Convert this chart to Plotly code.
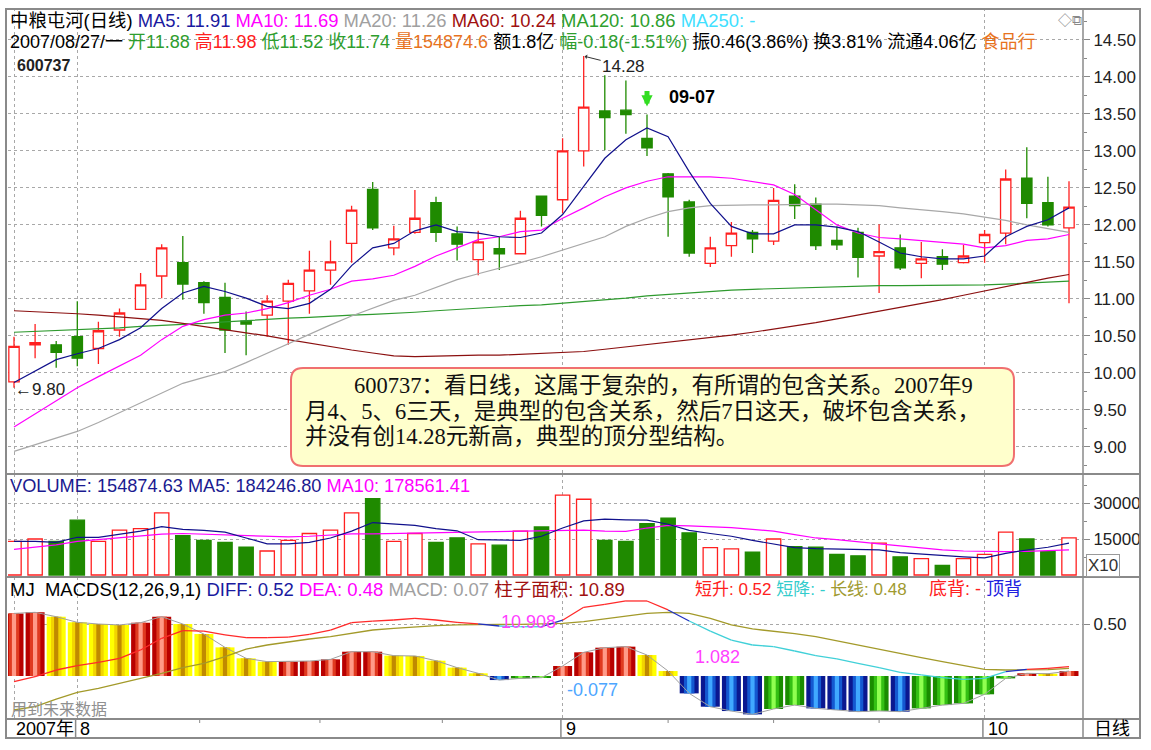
import plotly.graph_objects as go
from plotly.subplots import make_subplots

# ---------------- data ----------------
dates = ["07-27", "07-30", "07-31",
         "08-01", "08-02", "08-03", "08-06", "08-07", "08-08", "08-09", "08-10",
         "08-13", "08-14", "08-15", "08-16", "08-17", "08-20", "08-21", "08-22",
         "08-23", "08-24", "08-27", "08-28", "08-29", "08-30", "08-31",
         "09-03", "09-04", "09-05", "09-06", "09-07", "09-10", "09-11", "09-12",
         "09-13", "09-14", "09-17", "09-18", "09-19", "09-20", "09-21", "09-24",
         "09-25", "09-26", "09-27", "09-28",
         "10-08", "10-09", "10-10", "10-11", "10-12"]

opens = [9.88, 10.38, 10.38, 10.49, 10.33, 10.58, 10.86, 11.31, 11.49, 11.22,
         11.02, 10.70, 10.78, 10.97, 11.11, 11.39, 11.75, 12.48, 11.69, 11.90,
         12.30, 11.88, 11.53, 11.68, 11.61, 12.39, 12.34, 13.00, 13.54, 13.55,
         13.17, 12.69, 12.31, 11.48, 11.72, 11.90, 11.78, 12.39, 12.28, 11.79,
         11.90, 11.58, 11.69, 11.48, 11.57, 11.49, 11.76, 11.89, 12.63, 12.30,
         11.96]
highs = [10.49, 10.66, 10.43, 10.97, 10.69, 10.87, 11.35, 11.74, 11.85, 11.24,
         11.22, 10.83, 11.05, 11.26, 11.65, 11.79, 12.26, 12.58, 11.99, 12.47,
         12.38, 11.98, 11.92, 11.84, 12.19, 12.39, 13.17, 14.28, 14.02, 13.95,
         13.49, 12.70, 12.34, 11.84, 12.04, 11.93, 12.50, 12.55, 12.37, 11.98,
         11.96, 12.01, 11.87, 11.77, 11.67, 11.73, 11.93, 12.75, 13.05, 12.65,
         12.59]
lows = [9.80, 10.20, 10.07, 10.09, 10.12, 10.49, 10.86, 11.01, 10.99, 10.80,
        10.27, 10.24, 10.49, 10.38, 10.80, 11.19, 11.49, 11.93, 11.59, 11.88,
        11.77, 11.52, 11.32, 11.39, 11.60, 11.98, 12.16, 12.79, 13.01, 13.23,
        12.93, 11.84, 11.57, 11.43, 11.57, 11.62, 11.73, 12.08, 11.66, 11.66,
        11.29, 11.08, 11.39, 11.28, 11.39, 11.48, 11.49, 11.74, 12.09, 11.98,
        10.94]
closes = [10.36, 10.41, 10.28, 10.20, 10.57, 10.81, 11.19, 11.69, 11.20, 10.95,
          10.58, 10.66, 10.97, 11.21, 11.39, 11.50, 12.20, 11.96, 11.81, 12.09,
          11.90, 11.74, 11.77, 11.61, 12.09, 12.13, 13.00, 13.59, 13.45, 13.49,
          13.04, 12.38, 11.62, 11.69, 11.89, 11.81, 12.33, 12.26, 11.72, 11.73,
          11.56, 11.64, 11.42, 11.54, 11.47, 11.58, 11.87, 12.62, 12.29, 12.00,
          12.24]

ma5 = [9.87, 10.02, 10.18, 10.26, 10.33, 10.45, 10.61, 10.87, 11.08, 11.17,
       11.10, 11.01, 10.90, 10.87, 10.94, 11.13, 11.45, 11.69, 11.75, 11.92,
       12.00, 11.91, 11.89, 11.84, 11.83, 11.89, 12.14, 12.52, 12.90, 13.15,
       13.31, 13.19, 12.72, 12.29, 11.98, 11.88, 11.88, 12.00, 12.00, 11.97,
       11.91, 11.77, 11.62, 11.57, 11.54, 11.54, 11.58, 11.84, 11.98, 12.07,
       12.23]
ma10 = [9.27, 9.45, 9.62, 9.80, 9.95, 10.09, 10.24, 10.45, 10.63, 10.72,
        10.78, 10.81, 10.87, 10.95, 11.05, 11.13, 11.24, 11.27, 11.32, 11.44,
        11.58, 11.69, 11.80, 11.84, 11.91, 11.93, 12.09, 12.23, 12.38, 12.50,
        12.59, 12.65, 12.65, 12.65, 12.63, 12.59, 12.54, 12.41, 12.20, 12.00,
        11.89, 11.83, 11.81, 11.79, 11.76, 11.74, 11.69, 11.72, 11.79, 11.81,
        11.87]
ma20 = [8.94, 9.03, 9.12, 9.21, 9.33, 9.46, 9.59, 9.72, 9.86, 9.94,
        10.02, 10.14, 10.27, 10.40, 10.53, 10.65, 10.77, 10.88, 10.98, 11.05,
        11.16, 11.26, 11.34, 11.41, 11.49, 11.57, 11.66, 11.75, 11.84, 11.98,
        12.09, 12.18, 12.23, 12.26, 12.27, 12.27, 12.27, 12.28, 12.28, 12.28,
        12.27, 12.26, 12.23, 12.21, 12.18, 12.15, 12.11, 12.06, 12.00, 11.95,
        11.90]
ma60 = [10.84, 10.83, 10.82, 10.80, 10.78, 10.76, 10.73, 10.71, 10.67, 10.63,
        10.58, 10.54, 10.50, 10.45, 10.40, 10.36, 10.31, 10.27, 10.23, 10.22,
        10.23, 10.24, 10.24, 10.24, 10.25, 10.26, 10.27, 10.29, 10.32, 10.35,
        10.38, 10.41, 10.44, 10.47, 10.51, 10.55, 10.59, 10.63, 10.68, 10.73,
        10.78, 10.83, 10.88, 10.94, 10.99, 11.05, 11.11, 11.17, 11.23, 11.28,
        11.33]
ma120 = [10.55, 10.56, 10.57, 10.59, 10.60, 10.61, 10.63, 10.64, 10.66, 10.67,
         10.69, 10.71, 10.72, 10.74, 10.75, 10.77, 10.78, 10.79, 10.80, 10.82,
         10.84, 10.86, 10.87, 10.89, 10.91, 10.92, 10.94, 10.96, 10.99, 11.01,
         11.04, 11.06, 11.08, 11.10, 11.12, 11.13, 11.14, 11.15, 11.16, 11.16,
         11.17, 11.18, 11.18, 11.18, 11.19, 11.19, 11.19, 11.20, 11.21, 11.23,
         11.24]

volume = [14000, 15000, 14000, 22857, 14000, 18714, 19286, 25857, 16429, 14429,
          13571, 11571, 10000, 14429, 17286, 18714, 25857, 31857, 14000, 17286,
          13571, 15487, 13000, 12429, 18286, 20000, 33286, 31571, 14429, 14000,
          21429, 23714, 17571, 11429, 10857, 9571, 15000, 11857, 11571, 8571,
          8000, 13286, 7571, 6857, 4000, 6857, 8571, 17857, 15000, 9714,
          15429]
vol_ma5 = [14000, 14000, 13571, 15714, 15714, 17143, 18286, 20143, 19000, 18571,
           17857, 15429, 13000, 13000, 13571, 15429, 18286, 21857, 21429, 20714,
           19286, 18425, 14714, 14429, 14429, 16143, 19571, 22571, 23286, 23000,
           22857, 21143, 18571, 17286, 16143, 14429, 13000, 11429, 11000, 10857,
           10714, 10429, 9286, 8714, 7857, 7571, 7143, 9000, 10429, 11571,
           13286]
vol_ma10 = [10714, 11571, 12571, 14000, 14714, 15429, 16143, 17000, 17286, 17000,
            16857, 16429, 16143, 15857, 16143, 16571, 17143, 17143, 17286, 17429,
            17571, 17856, 18143, 18143, 18286, 18571, 18714, 18714, 18286, 18143,
            19571, 20714, 20429, 20143, 19714, 19000, 18286, 16857, 15429, 14714,
            14000, 13000, 12143, 11143, 10429, 10000, 9714, 9714, 9857, 10000,
            10429]

diff = [-0.055, -0.006, 0.058, 0.100, 0.132, 0.171, 0.252, 0.365, 0.439, 0.435,
        0.397, 0.371, 0.371, 0.377, 0.403, 0.445, 0.516, 0.532, 0.542, 0.558,
        0.542, 0.519, 0.505, 0.484, 0.477, 0.477, 0.540, 0.665, 0.694, 0.726,
        0.726, 0.639, 0.532, 0.435, 0.348, 0.300, 0.284, 0.242, 0.197, 0.165,
        0.123, 0.081, 0.035, 0.010, -0.016, -0.032, -0.023, 0.042, 0.065, 0.074,
        0.090]
dea = [-0.329, -0.297, -0.223, -0.158, -0.119, -0.071, -0.023, 0.026, 0.081, 0.123,
       0.187, 0.261, 0.300, 0.332, 0.358, 0.381, 0.413, 0.445, 0.461, 0.477,
       0.487, 0.494, 0.500, 0.500, 0.500, 0.503, 0.510, 0.526, 0.552, 0.584,
       0.606, 0.616, 0.606, 0.558, 0.494, 0.455, 0.435, 0.410, 0.381, 0.339,
       0.300, 0.261, 0.219, 0.177, 0.139, 0.100, 0.065, 0.058, 0.058, 0.061,
       0.074]
hist = [0.606, 0.616, 0.574, 0.519, 0.503, 0.494, 0.516, 0.574, 0.503, 0.406,
        0.277, 0.171, 0.139, 0.139, 0.145, 0.161, 0.235, 0.235, 0.197, 0.194,
        0.148, 0.081, 0.026, -0.039, -0.023, -0.016, 0.097, 0.229, 0.274, 0.284,
        0.203, 0.048, -0.168, -0.297, -0.339, -0.371, -0.319, -0.281, -0.313, -0.329,
        -0.345, -0.338, -0.345, -0.313, -0.281, -0.265, -0.177, -0.023, 0.026, 0.022,
        0.048]

price_ticks = [9.0, 9.5, 10.0, 10.5, 11.0, 11.5, 12.0, 12.5, 13.0, 13.5, 14.0, 14.5]
vol_ticks = [15000, 30000]
macd_ticks = [0.5]

# ---------------- geometry helpers ----------------
W, H = 1151, 750
PL, PR, PT, PB = 8, 1083, 8, 719


def px(x):
    return (x - PL) / (PR - PL)


def py(y):
    return (PB - y) / (PB - PT)


idx = list(range(len(dates)))
FONT = "Liberation Sans, Arial, Noto Sans CJK SC, sans-serif"
SERIF = "Liberation Serif, Times New Roman, Noto Sans CJK SC, serif"

fig = make_subplots(rows=3, cols=1, shared_xaxes=True, vertical_spacing=0)

# ---------------- price panel ----------------
fig.add_trace(go.Candlestick(
    x=idx, open=opens, high=highs, low=lows, close=closes,
    increasing=dict(line=dict(color="#FF2020", width=1.3), fillcolor="#FFFFFF"),
    decreasing=dict(line=dict(color="#1F8A00", width=1.3), fillcolor="#1F8A00"),
    whiskerwidth=0, showlegend=False), row=1, col=1)

for vals, col in [(ma120, "#2E9A2E"), (ma60, "#8B1010"), (ma20, "#A8A8A8"),
                  (ma10, "#FF00FF"), (ma5, "#10108C")]:
    fig.add_trace(go.Scatter(x=idx, y=vals, mode="lines",
                             line=dict(color=col, width=1.2),
                             showlegend=False, hoverinfo="skip"), row=1, col=1)

# ---------------- volume panel ----------------
up = [c >= o for o, c in zip(opens, closes)]
fig.add_trace(go.Bar(
    x=idx, y=volume, width=0.68,
    marker=dict(color=["#FFFFFF" if u else "#1F8A00" for u in up],
                line=dict(color=["#FF2020" if u else "#1F8A00" for u in up], width=1.3)),
    showlegend=False), row=2, col=1)
fig.add_trace(go.Scatter(x=idx, y=vol_ma10, mode="lines",
                         line=dict(color="#FF00FF", width=1.2),
                         showlegend=False, hoverinfo="skip"), row=2, col=1)
fig.add_trace(go.Scatter(x=idx, y=vol_ma5, mode="lines",
                         line=dict(color="#10108C", width=1.2),
                         showlegend=False, hoverinfo="skip"), row=2, col=1)

# ---------------- MACD panel ----------------
palette = {
    "red": ("#B80000", "#E03A20", "#FF9A88"),
    "yellow": ("#FFFF00", "#F2D400", "#C08A00"),
    "blue": ("#0A1890", "#1458D0", "#40A8FF"),
    "green": ("#1A8C00", "#34C014", "#90FF50"),
}
cats = []
for i, v in enumerate(hist):
    prev = hist[i - 1] if i > 0 else v - 1
    if v >= 0:
        cats.append("red" if v >= prev else "yellow")
    else:
        cats.append("green" if v >= prev else "blue")
for layer, w in [(0, 0.9), (1, 0.5), (2, 0.2)]:
    fig.add_trace(go.Bar(x=idx, y=hist, width=w,
                         marker=dict(color=[palette[c][layer] for c in cats], line=dict(width=0)),
                         showlegend=False, hoverinfo="skip"), row=3, col=1)
fig.add_trace(go.Scatter(x=idx, y=hist, mode="lines", line=dict(color="#A0A0A0", width=1),
                         showlegend=False, hoverinfo="skip"), row=3, col=1)
fig.add_trace(go.Scatter(x=idx, y=dea, mode="lines", line=dict(color="#A39A2A", width=1.3),
                         showlegend=False, hoverinfo="skip"), row=3, col=1)

seg = {"r": ([], []), "c": ([], []), "b": ([], [])}
for i in range(len(idx) - 1):
    a = diff[i] >= dea[i]
    b = diff[i + 1] >= dea[i + 1]
    k = "r" if (a and b) else ("c" if (not a and not b) else "b")
    seg[k][0].extend([idx[i], idx[i + 1], None])
    seg[k][1].extend([diff[i], diff[i + 1], None])
for k, col in [("r", "#FF2A2A"), ("c", "#40D0D8"), ("b", "#2030C0")]:
    fig.add_trace(go.Scatter(x=seg[k][0], y=seg[k][1], mode="lines",
                             line=dict(color=col, width=1.3), connectgaps=False,
                             showlegend=False, hoverinfo="skip"), row=3, col=1)

# ---------------- axes ----------------
month_starts = [0] + [i for i in range(1, len(dates)) if dates[i][:2] != dates[i - 1][:2]]
xr = [(PL - 14) / 21.1, (PR - 14) / 21.1]
for r in (1, 2, 3):
    fig.update_xaxes(range=xr, showticklabels=False, ticks="", showgrid=True,
                     tickvals=month_starts, griddash="dot", gridcolor="#A8A8A8",
                     gridwidth=1, zeroline=False, showline=False,
                     rangeslider=dict(visible=False), row=r, col=1)

axis_font = dict(family=FONT, size=17, color="#222222")
fig.update_yaxes(side="right", range=[8.635, 14.93], tickvals=price_ticks,
                 ticktext=[f"{v:.2f}" for v in price_ticks], ticks="outside",
                 ticklen=6, tickcolor="#888", tickfont=axis_font, showgrid=True,
                 griddash="dot", gridcolor="#A8A8A8", zeroline=False,
                 minor=dict(tickvals=[v + 0.25 for v in price_ticks[:-1]] + [8.75, 14.75],
                            ticklen=3, ticks="outside", tickcolor="#888", showgrid=False),
                 row=1, col=1)
fig.update_yaxes(side="right", range=[-833, 42083], tickvals=vol_ticks,
                 ticktext=[str(v) for v in vol_ticks], ticks="outside", ticklen=6,
                 tickcolor="#888", tickfont=axis_font, showgrid=True, griddash="dot",
                 gridcolor="#A8A8A8", zeroline=False,
                 minor=dict(tickvals=[7500, 22500, 37500], ticklen=3, ticks="outside",
                            tickcolor="#888", showgrid=False),
                 row=2, col=1)
fig.update_yaxes(side="right", range=[-0.416, 0.958], tickvals=macd_ticks,
                 ticktext=["0.50"], ticks="outside", ticklen=6, tickcolor="#888",
                 tickfont=axis_font, showgrid=True, griddash="dot", gridcolor="#A8A8A8",
                 zeroline=False, row=3, col=1)

fig.layout.yaxis.domain = [py(474), 1.0]
fig.layout.yaxis2.domain = [py(577), py(474)]
fig.layout.yaxis3.domain = [0.0, py(577)]

# ---------------- frame shapes ----------------
shapes = []
LC = "#8A8A8A"
shapes.append(dict(type="rect", xref="paper", yref="paper", x0=px(6), x1=px(1140),
                   y0=py(738), y1=py(9), line=dict(color=LC, width=2)))
for yy in (474, 577, 719):
    shapes.append(dict(type="line", xref="paper", yref="paper", x0=px(6), x1=px(1140),
                       y0=py(yy), y1=py(yy), line=dict(color=LC, width=2)))
shapes.append(dict(type="line", xref="paper", yref="paper", x0=px(PR), x1=px(PR),
                   y0=py(738), y1=py(9), line=dict(color=LC, width=1.5)))
for m in month_starts[1:]:
    shapes.append(dict(type="line", xref="x3", yref="paper", x0=m - 0.08, x1=m - 0.08,
                       y0=py(738), y1=py(719), line=dict(color=LC, width=1.5)))
for t in [8.8, 14.5, 20.3, 31, 36, 41]:
    shapes.append(dict(type="line", xref="x3", yref="paper", x0=t, x1=t,
                       y0=py(723), y1=py(719), line=dict(color=LC, width=1)))

# rounded comment box
bx0, bx1, by0, by1 = px(291), px(1014), py(368), py(466)
rx, ry = 12 / (PR - PL), 12 / (PB - PT)
path = (f"M {bx0+rx},{by0} L {bx1-rx},{by0} Q {bx1},{by0} {bx1},{by0-ry} "
        f"L {bx1},{by1+ry} Q {bx1},{by1} {bx1-rx},{by1} L {bx0+rx},{by1} "
        f"Q {bx0},{by1} {bx0},{by1+ry} L {bx0},{by0-ry} Q {bx0},{by0} {bx0+rx},{by0} Z")
shapes.append(dict(type="path", xref="paper", yref="paper", path=path,
                   fillcolor="#FFFFCC", line=dict(color="#F07070", width=2), layer="above"))

# ---------------- annotations ----------------
ann = []


def label(x, y, text, size=18, color="#000", xanchor="left", family=FONT, **kw):
    ann.append(dict(x=px(x), y=py(y), xref="paper", yref="paper", text=text,
                    showarrow=False, xanchor=xanchor, yanchor="middle",
                    font=dict(family=family, size=size, color=color), **kw))


def sp(color, text):
    return f'<span style="color:{color}">{text}</span>'


label(8, 20, sp("#000", "中粮屯河(日线)") + " " + sp("#1A1AA0", "MA5: 11.91") + " " +
      sp("#FF00FF", "MA10: 11.69") + " " + sp("#A0A0A0", "MA20: 11.26") + " " +
      sp("#A01010", "MA60: 10.24") + " " + sp("#2E9E2E", "MA120: 10.86") + " " +
      sp("#40E0FF", "MA250: -"), size=18.4)
label(8, 42, sp("#000", "2007/08/27/一") + " " + sp("#2E9E2E", "开11.88") + " " +
      sp("#FF2020", "高11.98") + " " + sp("#2E9E2E", "低11.52") + " " +
      sp("#2E9E2E", "收11.74") + " " + sp("#E8731E", "量154874.6") + " " +
      sp("#000", "额1.8亿") + " " + sp("#2E9E2E", "幅-0.18(-1.51%)") + " " +
      sp("#000", "振0.46(3.86%) 换3.81% 流通4.06亿") + " " + sp("#E8731E", "食品行"), size=18)
label(1056, 20, "◇⧉", size=14, color="#888")
label(15, 65, "<b>600737</b>", size=16, color="#222")

label(8, 486, sp("#1A1A90", "VOLUME: 154874.63 MA5: 184246.80") + " " +
      sp("#FF00FF", "MA10: 178561.41"), size=18.2)
label(8, 589, sp("#000", "MJ&nbsp;&nbsp;MACDS(12,26,9,1)") + " " + sp("#1A1AA0", "DIFF: 0.52") + " " +
      sp("#FF00FF", "DEA: 0.48") + " " + sp("#A0A0A0", "MACD: 0.07") + " " +
      sp("#A01010", "柱子面积: 10.89"), size=18.5)
label(693, 589, sp("#FF2020", "短升: 0.52") + " " + sp("#33CCCC", "短降: -") + " " +
      sp("#A09A30", "长线: 0.48"), size=17)
label(927, 589, sp("#FF2020", "底背: -") + " " + sp("#2020E0", "顶背"), size=18)

label(528, 622, "10.908", size=18, color="#FF40FF", xanchor="center")
label(717, 657, "1.082", size=18, color="#FF40FF", xanchor="center")
label(592, 690, "-0.077", size=18, color="#4DA6FF", xanchor="center")
label(9, 709, "用到未来数据", size=16, color="#909090")

label(1103, 565, "X10", size=17, color="#333", xanchor="center",
      bordercolor="#999", borderwidth=1, borderpad=1)
label(1112, 729, "日线", size=18, color="#000", xanchor="center")

label(14, 729, "2007年", size=18, color="#000")
month_names = {"08": "8", "09": "9", "10": "10"}
for m in month_starts[1:]:
    ann.append(dict(x=m, y=py(729), xref="x3", yref="paper", text=month_names[dates[m][:2]],
                    showarrow=False, xanchor="left", yanchor="middle", xshift=1,
                    font=dict(family=FONT, size=18, color="#000")))

box_lines = [(352, 386, "600737：看日线，这属于复杂的，有所谓的包含关系。2007年9"),
             (303, 411, "月4、5、6三天，是典型的包含关系，然后7日这天，破坏包含关系，"),
             (303, 436, "并没有创14.28元新高，典型的顶分型结构。")]
for bxp, byp, t in box_lines:
    label(bxp, byp, t, size=22.5, color="#111", family=SERIF)

# price annotations
hi_i = highs.index(max(highs))
lo_i = lows.index(min(lows))
ann.append(dict(x=hi_i, y=highs[hi_i], xref="x", yref="y", text=f"{highs[hi_i]:.2f}",
                showarrow=True, ax=40, ay=10, arrowhead=1, arrowsize=0.8, arrowwidth=1,
                arrowcolor="#333", standoff=1, font=dict(family=FONT, size=17, color="#222")))
ann.append(dict(x=lo_i, y=lows[lo_i], xref="x", yref="y", text=f"←{lows[lo_i]:.2f}",
                showarrow=False, xanchor="left", yanchor="middle", yshift=-2, xshift=-1,
                font=dict(family=FONT, size=17, color="#222")))
sel = dates.index("09-07")
ann.append(dict(x=sel, y=13.60, xref="x", yref="y", text="", showarrow=True, ax=0, ay=-17,
                arrowhead=2, arrowsize=0.45, arrowwidth=5, arrowcolor="#33DD22"))
ann.append(dict(x=sel + 0.95, y=13.73, xref="x", yref="y", text="<b>09-07</b>",
                showarrow=False, xanchor="left", yanchor="middle",
                font=dict(family=FONT, size=18, color="#000")))

fig.update_layout(
    width=W, height=H, margin=dict(l=PL, r=W - PR, t=PT, b=H - PB),
    paper_bgcolor="#FFFFFF", plot_bgcolor="#FFFFFF", barmode="overlay",
    showlegend=False, shapes=shapes, annotations=ann, hovermode=False,
    font=dict(family=FONT),
)

fig.write_html("out.html", config={"displayModeBar": False},
               post_script="document.body.style.margin='0';document.body.style.overflow='hidden';")
